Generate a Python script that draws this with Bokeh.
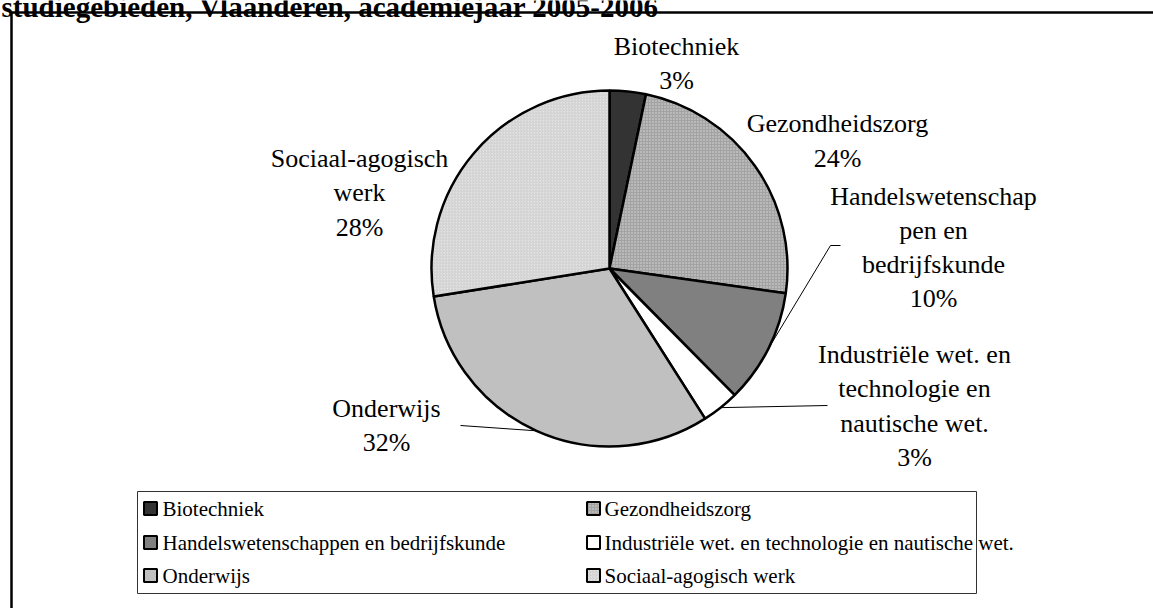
import numpy as np
from bokeh.plotting import figure
from bokeh.models import Range1d, ColumnDataSource
from bokeh.core.properties import value
from bokeh.embed import file_html
from bokeh.resources import INLINE

# ---------------- data ----------------
title = "studiegebieden, Vlaanderen, academiejaar 2005-2006"
categories = [
    "Biotechniek",
    "Gezondheidszorg",
    "Handelswetenschappen en bedrijfskunde",
    "Industriële wet. en technologie en nautische wet.",
    "Onderwijs",
    "Sociaal-agogisch werk",
]
slice_labels = [
    "Biotechniek",
    "Gezondheidszorg",
    "Handelswetenschap\npen en\nbedrijfskunde",
    "Industriële wet. en\ntechnologie en\nnautische wet.",
    "Onderwijs",
    "Sociaal-agogisch\nwerk",
]
values = [3.3, 24.0, 10.4, 3.4, 31.6, 27.6]

# ---------------- styles ----------------
fills = ["#333333", "#a3a3a3", "#808080", "#ffffff", "#c0c0c0", "#e3e3e3"]
hatches = [" ", "dot", " ", " ", " ", "right_diagonal_line"]
hatch_colors = ["#333333", "#d8d8d8", "#808080", "#ffffff", "#c0c0c0", "#c8c8c8"]
FONT = value("Liberation Serif")

W, H = 1153, 608
def Y(y):
    return H - y

p = figure(width=W, height=H, x_range=Range1d(0, W), y_range=Range1d(0, H),
           output_backend="svg", toolbar_location=None, min_border=0)
p.axis.visible = False
p.grid.visible = False
p.outline_line_color = None
p.background_fill_color = "white"
p.border_fill_color = "white"

# outer frame (top and left edges visible)
p.segment(x0=[11, 11], y0=[Y(12), Y(12)], x1=[W + 5, 11], y1=[Y(12), -5],
          line_color="black", line_width=2.5)

# title (partly cut off at the top, as in the source)
p.text(x=[1], y=[Y(6.5)], text=[title], text_font=FONT, text_font_style="bold",
       text_font_size="29px", text_baseline="alphabetic", text_align="left",
       text_color="black")

# ---------------- pie ----------------
vals = np.array(values, dtype=float)
frac = vals / vals.sum()
cum_end = np.cumsum(frac)
cum_start = cum_end - frac
start = np.pi / 2 - 2 * np.pi * cum_start
end = np.pi / 2 - 2 * np.pi * cum_end
mid = (start + end) / 2
pct = [f"{int(round(f * 100))}%" for f in frac]

cx, cy, r = 609, Y(268), 178
src = ColumnDataSource(dict(start=start, end=end, fill=fills, hatch=hatches,
                            hcol=hatch_colors, cat=categories))
p.wedge(x=cx, y=cy, radius=r, radius_units="screen", start_angle="start", end_angle="end",
        direction="clock", fill_color="fill", line_color="black", line_width=2.5,
        hatch_pattern="hatch", hatch_color="hcol", hatch_scale=3, hatch_weight=0.8,
        source=src)

# data labels
lab_x = [676, 837, 933, 914, 386, 359]
lab_y = [63, 140.5, 247, 405.5, 425, 192.5]
p.text(x=lab_x, y=[Y(v) for v in lab_y],
       text=[f"{n}\n{q}" for n, q in zip(slice_labels, pct)],
       text_font=FONT, text_font_size="26px", text_align="center",
       text_baseline="middle", text_line_height=1.18, text_color="black")

# leader lines to slice edges
edge_x = cx + r * np.cos(mid)
edge_y = cy + r * np.sin(mid)
lead_start = {2: [(840, 245), (830, 245)], 3: [(827, 405)], 4: [(460, 425)]}
xs, ys = [], []
for i, pts in lead_start.items():
    xs.append([q[0] for q in pts] + [edge_x[i]])
    ys.append([Y(q[1]) for q in pts] + [edge_y[i]])
p.multi_line(xs=xs, ys=ys, line_color="black", line_width=1)

# ---------------- legend ----------------
p.quad(left=[137], right=[976], top=[Y(491)], bottom=[Y(593)],
       fill_color="white", line_color="#333333", line_width=1)
col_sq = [150, 593]
col_tx = [162, 604]
row_y = [508, 542, 575]
n = len(categories)
sq_x = [col_sq[i % 2] for i in range(n)]
tx_x = [col_tx[i % 2] for i in range(n)]
ly = [Y(row_y[i // 2]) for i in range(n)]
lsrc = ColumnDataSource(dict(x=sq_x, tx=tx_x, y=ly, fill=fills, hatch=hatches,
                             hcol=hatch_colors, cat=categories))
p.rect(x="x", y="y", width=13, height=13, width_units="screen", height_units="screen",
       fill_color="fill", line_color="black", line_width=2, hatch_pattern="hatch",
       hatch_color="hcol", hatch_scale=3, hatch_weight=0.8, source=lsrc)
p.text(x="tx", y="y", text="cat", text_font=FONT, text_font_size="21px",
       text_align="left", text_baseline="middle", text_color="black", source=lsrc)

open("out.html", "w").write(file_html(p, INLINE))
